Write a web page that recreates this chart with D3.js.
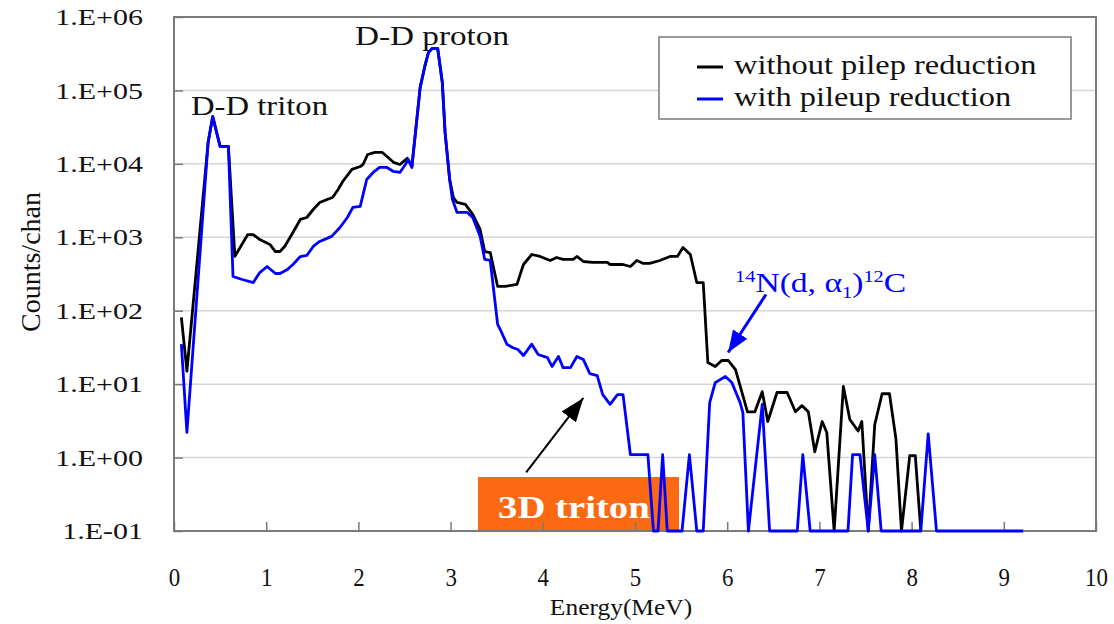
<!DOCTYPE html>
<html>
<head>
<meta charset="utf-8">
<script src="https://cdn.jsdelivr.net/npm/d3@7"></script>
<style>
  body { margin: 0; background: #fff; }
  svg { display: block; font-family: "Liberation Serif", "Times New Roman", serif; }
</style>
</head>
<body>
<svg id="chart" width="1114" height="624"></svg>
<script>
// [energy MeV, counts/chan]; 0.1 = empty channel (sits on the axis)
const withoutReduction = [
  [0.08, 81], [0.14, 15], [0.37, 19500], [0.42, 44000], [0.50, 17300], [0.59, 17300],
  [0.66, 550], [0.80, 1090], [0.86, 1090], [0.93, 930], [1.04, 800], [1.10, 640],
  [1.15, 640], [1.20, 750], [1.29, 1160], [1.37, 1750], [1.44, 1860], [1.51, 2390],
  [1.58, 2980], [1.66, 3270], [1.72, 3480], [1.78, 4480], [1.83, 5750], [1.93, 8400],
  [2.02, 9200], [2.05, 9800], [2.10, 13400], [2.18, 14300], [2.26, 14300], [2.31, 12600],
  [2.38, 10500], [2.45, 9800], [2.53, 11900], [2.58, 9200], [2.67, 110000], [2.72, 212000],
  [2.76, 330000], [2.80, 373000], [2.86, 373000], [2.91, 128000], [2.94, 26800], [2.99, 6100],
  [3.03, 3480], [3.07, 2980], [3.16, 2800], [3.24, 2050], [3.32, 1280], [3.37, 640],
  [3.43, 620], [3.51, 214], [3.59, 214], [3.72, 228], [3.79, 426], [3.88, 583],
  [3.97, 548], [4.08, 483], [4.15, 531], [4.22, 499], [4.33, 499], [4.37, 548],
  [4.44, 468], [4.54, 454], [4.70, 454], [4.73, 426], [4.87, 426], [4.95, 400],
  [5.02, 483], [5.09, 440], [5.16, 440], [5.27, 483], [5.38, 548], [5.46, 548],
  [5.52, 726], [5.60, 583], [5.67, 242], [5.74, 242], [5.79, 19.7], [5.87, 17.4],
  [5.94, 21], [6.01, 21], [6.09, 15.8], [6.22, 4.2], [6.30, 4.2], [6.38, 7.9],
  [6.44, 3.1], [6.54, 7.7], [6.65, 7.7], [6.74, 4.2], [6.81, 5.1], [6.88, 4.2],
  [6.95, 1.2], [7.03, 3.1], [7.08, 2.2], [7.16, 0.1], [7.26, 9.3], [7.33, 3.3],
  [7.42, 2.3], [7.46, 3.1], [7.53, 0.1], [7.60, 2.8], [7.68, 7.4], [7.76, 7.4],
  [7.83, 1.8], [7.89, 0.1], [7.98, 1.06], [8.04, 1.06], [8.10, 0.1]
];

const withReduction = [
  [0.08, 35], [0.14, 2.2], [0.37, 19500], [0.42, 44000], [0.50, 17300], [0.59, 17300],
  [0.64, 292], [0.74, 266], [0.86, 242], [0.93, 331], [1.01, 400], [1.10, 321],
  [1.15, 321], [1.23, 364], [1.29, 426], [1.37, 547], [1.44, 565], [1.51, 750],
  [1.58, 877], [1.71, 1030], [1.80, 1360], [1.88, 1860], [1.94, 2550], [2.02, 2630],
  [2.09, 6120], [2.16, 7640], [2.23, 8930], [2.31, 8930], [2.38, 7880], [2.45, 7640],
  [2.51, 9820], [2.54, 11500], [2.58, 8930], [2.67, 110000], [2.72, 212000], [2.76, 330000],
  [2.80, 373000], [2.86, 373000], [2.91, 128000], [2.94, 26800], [2.99, 6100], [3.02, 3270],
  [3.07, 2180], [3.18, 2180], [3.24, 1860], [3.32, 1030], [3.37, 499], [3.43, 483],
  [3.51, 65], [3.54, 55], [3.61, 35], [3.67, 31.5], [3.73, 29.6], [3.79, 24.5],
  [3.88, 35], [3.95, 25.3], [4.05, 23], [4.10, 17.4], [4.17, 23.8], [4.22, 16.8],
  [4.30, 16.8], [4.37, 23.8], [4.44, 21.6], [4.51, 13.9], [4.59, 13.1], [4.65, 7.2],
  [4.73, 5.3], [4.81, 7.2], [4.87, 7.2], [4.95, 1.1], [5.14, 1.1], [5.20, 0.1],
  [5.25, 0.1], [5.30, 1.1], [5.35, 0.1], [5.51, 0.1], [5.59, 1.1], [5.67, 0.1],
  [5.74, 0.1], [5.81, 5.6], [5.87, 10.5], [5.98, 12.7], [6.05, 10.5], [6.14, 5.6],
  [6.17, 4.1], [6.23, 0.1], [6.38, 5.3], [6.46, 0.1], [6.76, 0.1], [6.82, 1.1],
  [6.90, 0.1], [7.31, 0.1], [7.36, 1.1], [7.44, 1.1], [7.53, 0.1], [7.60, 1.1],
  [7.67, 0.1], [8.10, 0.1], [8.18, 2.1], [8.27, 0.1], [9.21, 0.1]
];

const xTicks = [0, 1, 2, 3, 4, 5, 6, 7, 8, 9, 10];
const yTicks = [0.1, 1, 10, 100, 1e3, 1e4, 1e5, 1e6];
const yTickLabels = ["1.E-01", "1.E+00", "1.E+01", "1.E+02", "1.E+03", "1.E+04", "1.E+05", "1.E+06"];
const legendLabels = ["without pilep reduction", "with pileup reduction"];
const seriesColors = ["#000000", "#0000ff"];

const svg = d3.select('#chart');
const plotLeft = 174, plotRight = 1096, plotTop = 17, plotBottom = 531;
const frameColor = '#7a7a7a';
const textColor = '#111';

const x = d3.scaleLinear().domain([0, 10]).range([plotLeft, plotRight]);
const y = d3.scaleLog().domain([0.1, 1e6]).range([plotBottom, plotTop]);

// the source picture is not evenly scaled, so text widths are nudged to match
function widen(sel, k) {
  sel.each(function () {
    let w = this.getComputedTextLength();
    d3.select(this).attr('textLength', w * k).attr('lengthAdjust', 'spacingAndGlyphs');
  });
}

// gridlines
svg.append('g').selectAll('line')
  .data(yTicks.slice(1, -1))
  .join('line')
  .attr('x1', plotLeft).attr('x2', plotRight)
  .attr('y1', d => y(d)).attr('y2', d => y(d))
  .attr('stroke', '#d6d6d6').attr('stroke-width', 1.5);

// orange label box (under the curves)
svg.append('rect')
  .attr('x', 478).attr('y', 477).attr('width', 201).attr('height', plotBottom - 477)
  .attr('fill', '#fb6912');

// frame
svg.append('rect')
  .attr('x', plotLeft).attr('y', plotTop)
  .attr('width', plotRight - plotLeft).attr('height', plotBottom - plotTop)
  .attr('fill', 'none').attr('stroke', frameColor).attr('stroke-width', 2);

// axes
let yAxisG = svg.append('g')
  .attr('transform', `translate(${plotLeft},0)`)
  .call(d3.axisLeft(y).tickValues(yTicks).tickFormat((d, i) => yTickLabels[i]).tickSize(-9).tickPadding(31));
yAxisG.select('.domain').remove();
yAxisG.attr('font-family', null).attr('font-size', 24);
yAxisG.selectAll('line').attr('stroke', frameColor).attr('stroke-width', 1.5);
yAxisG.selectAll('text').attr('fill', textColor).call(widen, 1.25);

let xAxisG = svg.append('g')
  .attr('transform', `translate(0,${plotBottom})`)
  .call(d3.axisBottom(x).tickValues(xTicks).tickSize(-9).tickPadding(37));
xAxisG.select('.domain').remove();
xAxisG.attr('font-family', null).attr('font-size', 26);
xAxisG.selectAll('line').attr('stroke', frameColor).attr('stroke-width', 1.5);
xAxisG.selectAll('text').attr('fill', textColor).call(widen, 0.88);

// spectra
const line = d3.line().x(d => x(d[0])).y(d => y(d[1]));
[withoutReduction, withReduction].forEach((series, i) => {
  svg.append('path')
    .datum(series)
    .attr('d', line)
    .attr('fill', 'none')
    .attr('stroke', seriesColors[i])
    .attr('stroke-width', 2.8)
    .attr('stroke-linejoin', 'round');
});

// arrows
const defs = svg.append('defs');
function arrowMarker(id, color, len, wid) {
  defs.append('marker')
    .attr('id', id)
    .attr('viewBox', `0 0 ${len} ${wid}`)
    .attr('refX', len).attr('refY', wid / 2)
    .attr('markerWidth', len).attr('markerHeight', wid)
    .attr('markerUnits', 'userSpaceOnUse')
    .attr('orient', 'auto')
    .append('path')
    .attr('d', `M0,0L${len},${wid / 2}L0,${wid}Z`)
    .attr('fill', color);
}
arrowMarker('headBlack', '#000', 24, 18);
arrowMarker('headBlue', '#0000ff', 22, 17);

const arrows = [
  { from: [3.82, 0.63], to: [4.44, 6.5], color: '#000', width: 2, head: 'headBlack' },
  { from: [6.42, 166], to: [6.01, 27], color: '#0000ff', width: 3, head: 'headBlue' }
];
svg.append('g').selectAll('line')
  .data(arrows)
  .join('line')
  .attr('x1', d => x(d.from[0])).attr('y1', d => y(d.from[1]))
  .attr('x2', d => x(d.to[0])).attr('y2', d => y(d.to[1]))
  .attr('stroke', d => d.color).attr('stroke-width', d => d.width)
  .attr('marker-end', d => `url(#${d.head})`);

// annotations
svg.append('text').attr('x', 191).attr('y', 115).attr('font-size', 27).attr('fill', textColor)
  .text('D-D triton').call(widen, 1.21);
svg.append('text').attr('x', 355).attr('y', 45).attr('font-size', 27).attr('fill', textColor)
  .text('D-D proton').call(widen, 1.23);
svg.append('text').attr('x', 498).attr('y', 518).attr('font-size', 31).attr('font-weight', 'bold')
  .attr('fill', '#fff').text('3D triton').call(widen, 1.25);

let nt = svg.append('g').attr('transform', 'translate(735,292) scale(1.2,1)')
  .append('text').attr('fill', '#0000ff').attr('font-size', 28);
nt.append('tspan').attr('font-size', 17).attr('dy', -10).text('14');
nt.append('tspan').attr('dy', 10).text('N(d, \u03b1');
nt.append('tspan').attr('font-size', 17).attr('dy', 6).text('1');
nt.append('tspan').attr('dy', -6).text(')');
nt.append('tspan').attr('font-size', 17).attr('dy', -10).text('12');
nt.append('tspan').attr('dy', 10).text('C');

// axis titles
svg.append('text').attr('x', 621).attr('y', 615).attr('text-anchor', 'middle')
  .attr('font-size', 24).attr('fill', textColor).text('Energy(MeV)').call(widen, 1.06);
svg.append('text').attr('transform', 'translate(40,262) rotate(-90)').attr('text-anchor', 'middle')
  .attr('font-size', 28).attr('fill', textColor).text('Counts/chan');

// legend
let legend = svg.append('g');
legend.append('rect')
  .attr('x', 659).attr('y', 37).attr('width', 412).attr('height', 82)
  .attr('fill', '#fff').attr('stroke', frameColor).attr('stroke-width', 1.5);
let rows = legend.selectAll('g.row')
  .data(legendLabels)
  .join('g').attr('class', 'row')
  .attr('transform', (d, i) => `translate(0,${i * 32})`);
rows.append('line')
  .attr('x1', 697).attr('x2', 723).attr('y1', 67).attr('y2', 67)
  .attr('stroke', (d, i) => seriesColors[i]).attr('stroke-width', 3);
rows.append('text')
  .attr('x', 734).attr('y', 74)
  .attr('font-size', 27).attr('fill', textColor)
  .text(d => d)
  .call(widen, 1.2);
</script>
</body>
</html>
